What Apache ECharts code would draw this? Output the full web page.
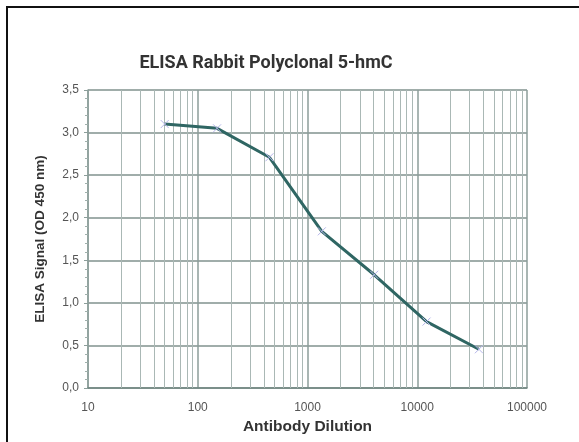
<!DOCTYPE html>
<html>
<head>
<meta charset="utf-8">
<script src="https://cdn.jsdelivr.net/npm/echarts@6/dist/echarts.min.js"></script>
<style>html,body{margin:0;padding:0;background:#fff}#c{width:579px;height:442px}</style>
</head>
<body>
<div id="c"></div>
<script>
var dilutions = [50, 150, 450, 1350, 4050, 12150, 36450];
var signal = [3.10, 3.05, 2.71, 1.84, 1.33, 0.78, 0.455];
var minorGrid = [20,30,40,50,60,70,80,90,200,300,400,500,600,700,800,900,2000,3000,4000,5000,6000,7000,8000,9000,20000,30000,40000,50000,60000,70000,80000,90000];

var chart = echarts.init(document.getElementById('c'));
chart.setOption({
  animation: false,
  backgroundColor: '#fff',
  graphic: [{type:'rect', shape:{x:7,y:7,width:600,height:500}, style:{fill:'none', stroke:'#111', lineWidth:2}}],
  title: {
    text: 'ELISA Rabbit Polyclonal 5-hmC',
    left: 261, textAlign: 'center', top: 49,
    textStyle: {fontFamily: 'Roboto', fontWeight: 'bold', fontSize: 18, color: '#333'}
  },
  grid: {left: 88, right: 52, top: 90, bottom: 54},
  xAxis: {
    type: 'log', logBase: 10, min: 10, max: 100000,
    name: 'Antibody Dilution', nameLocation: 'middle', nameGap: 31,
    nameTextStyle: {fontFamily: 'Liberation Sans', fontWeight: 'bold', fontSize: 15.5, color: '#333'},
    axisLine: {lineStyle: {color: '#6f8580', width: 1.5}},
    axisTick: {show: false},
    axisLabel: {fontFamily: 'Liberation Sans', fontSize: 12, color: '#555', margin: 14,
      formatter: function(v){ return String(Math.round(v)); }},
    splitLine: {show: true, lineStyle: {color: '#8c9e9a', width: 1.5}}
  },
  yAxis: {
    type: 'value', min: 0, max: 3.5, interval: 0.5,
    name: 'ELISA Signal (OD 450 nm)', nameLocation: 'middle', nameGap: 41,
    nameTextStyle: {fontFamily: 'Liberation Sans', fontWeight: 'bold', fontSize: 13.5, color: '#333'},
    axisLine: {show: true, lineStyle: {color: '#8c9e9a', width: 1.5}},
    axisTick: {show: true, length: 4, lineStyle: {color: '#8c9e9a'}},
    minorTick: {show: true, splitNumber: 5, length: 3, lineStyle: {color: '#a0b0ac'}},
    axisLabel: {fontFamily: 'Liberation Sans', fontSize: 12, color: '#555', margin: 9,
      formatter: function(v){ return v.toFixed(1).replace('.', ','); }},
    splitLine: {show: true, lineStyle: {color: '#80928e', width: 1.5}}
  },
  series: [{
    type: 'line',
    data: dilutions.map(function(d, i){ return [d, signal[i]]; }),
    lineStyle: {color: '#2f6663', width: 3},
    symbol: 'path://M0,0L10,10M10,0L0,10',
    symbolSize: 8,
    itemStyle: {color: 'none', borderColor: '#b6b6ea', borderWidth: 1},
    z: 5,
    markLine: {
      silent: true, symbol: 'none', label: {show: false},
      lineStyle: {color: '#aab8b5', width: 1, type: 'solid'},
      data: minorGrid.map(function(v){ return {xAxis: v}; })
    }
  }]
});
</script>
</body>
</html>
